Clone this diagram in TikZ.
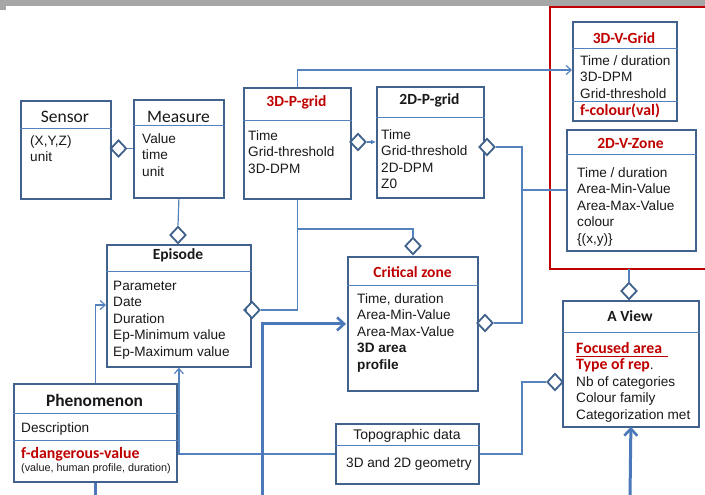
\documentclass[tikz,border=0pt]{standalone}
\usepackage{fontspec}
\setmainfont{Liberation Sans}
\newfontfamily\calfont{Carlito}
\usetikzlibrary{shapes.geometric,arrows.meta}
\definecolor{boxc}{RGB}{64,98,140}
\definecolor{linec}{RGB}{84,130,190}
\definecolor{bigc}{RGB}{74,120,184}
\definecolor{redc}{RGB}{192,0,0}
\definecolor{grayc}{RGB}{166,166,166}
\definecolor{txtc}{RGB}{25,25,25}
\tikzset{
 box/.style={draw=boxc,line width=1.8pt,fill=white,anchor=north west,inner sep=0pt},
 div/.style={draw=linec,line width=1pt},
 body/.style={anchor=north west,inner sep=0pt,align=left,text=txtc,font=\fontsize{13.6}{16.5}\selectfont},
 line1/.style={anchor=base west,inner sep=0pt,text=txtc,font=\fontsize{13.6}{16.5}\selectfont},
 hdr/.style={anchor=base,inner sep=0pt,text=txtc,font=\calfont\bfseries\fontsize{15.5}{18}\selectfont},
 hdrred/.style={hdr,text=redc},
 hdrreg/.style={anchor=base,inner sep=0pt,text=txtc,font=\calfont\fontsize{17.5}{20}\selectfont},
 conn/.style={draw=linec,line width=1.2pt},
 bigline/.style={draw=bigc,line width=3pt},
 openarr/.style={-{Straight Barb[length=5pt,width=9pt]}},
 bigarr/.style={-{Straight Barb[length=7pt,width=13pt,line width=2.6pt]}},
 dia/.style={diamond,aspect=1,draw=boxc,line width=1.8pt,fill=white,inner sep=0pt,minimum width=16pt,minimum height=17pt}
}
\newcommand{\rb}[1]{{\calfont\bfseries\fontsize{15.8}{16.5}\selectfont\color{redc}#1}}
\begin{document}
\begin{tikzpicture}[x=1pt,y=-1pt]
\useasboundingbox (0,0) rectangle (705,495);
% top bar
\fill[grayc] (0,0) rectangle (705,6);
\fill[grayc] (0,6) rectangle (6,10);
% red frame
\draw[redc,line width=2.2pt] (707,7) -- (550,7) -- (550,269) -- (707,269);
\coordinate (redbot) at (629,269);

% boxes
\node[box,minimum width=90pt,minimum height=98pt] (sensor) at (20,100) {};
\draw[div] (sensor.west |- 0,129) -- (sensor.east |- 0,129);
\node[hdrreg] (sensorT) at (65,123) {Sensor};
\node[body] (sensorB) at (30,133.45) {\strut(X,Y,Z)\\unit};

\node[box,minimum width=90pt,minimum height=98pt] (measure) at (133,99) {};
\draw[div] (measure.west |- 0,126) -- (measure.east |- 0,126);
\node[hdrreg] (measureT) at (178.5,123) {Measure};
\node[body] (measureB) at (142,131.45) {\strut Value\\time\\unit};

\node[box,minimum width=107pt,minimum height=111pt] (p3) at (243,87) {};
\draw[div] (p3.west |- 0,121) -- (p3.east |- 0,121);
\node[hdrred] (p3T) at (296.5,106.5) {3D-P-grid};
\node[body] (p3B) at (248,128.45) {\strut Time\\Grid-threshold\\3D-DPM};

\node[box,minimum width=107pt,minimum height=111pt] (p2) at (376,86) {};
\draw[div] (p2.west |- 0,118) -- (p2.east |- 0,118);
\node[hdr] (p2T) at (429.5,105) {2D-P-grid};
\node[body] (p2B) at (381,127.45) {\strut Time\\Grid-threshold\\2D-DPM\\Z0};

\node[box,minimum width=104pt,minimum height=99pt] (v3) at (572,21) {};
\draw[div] (v3.west |- 0,49) -- (v3.east |- 0,49);
\draw[div] (v3.west |- 0,102) -- (v3.east |- 0,102);
\node[hdrred] (v3T) at (624,43.3) {3D-V-Grid};
\node[body] (v3B) at (580,53.45) {\strut Time / duration\\3D-DPM\\Grid-threshold};
\node[anchor=base west,inner sep=0pt] (v3F) at (580,115) {\rb{f-colour(val)}};

\node[box,minimum width=129pt,minimum height=121pt] (v2z) at (566,129) {};
\draw[div] (v2z.west |- 0,154) -- (v2z.east |- 0,154);
\node[hdrred] (v2zT) at (630.5,148.3) {2D-V-Zone};
\node[body] (v2zB) at (577,165.45) {\strut Time / duration\\Area-Min-Value\\Area-Max-Value\\colour\\\{(x,y)\}};

\node[box,minimum width=144pt,minimum height=122pt] (episode) at (106,244) {};
\draw[div] (episode.west |- 0,271) -- (episode.east |- 0,271);
\node[hdr] (episodeT) at (178,259.3) {Episode};
\node[body] (episodeB) at (113,278.45) {\strut Parameter\\Date\\Duration\\Ep-Minimum value\\Ep-Maximum value};

\node[box,minimum width=130pt,minimum height=134pt] (crit) at (347,256) {};
\draw[div] (crit.west |- 0,285) -- (crit.east |- 0,285);
\node[hdrred] (critT) at (412.5,277.7) {Critical zone};
\node[body] (critB) at (357,291.45) {\strut Time, duration\\Area-Min-Value\\Area-Max-Value\\\textbf{3D area}\\\textbf{profile}};

\node[box,minimum width=136pt,minimum height=126pt] (view) at (562,300) {};
\draw[div] (view.west |- 0,332) -- (view.east |- 0,332);
\node[hdr] (viewT) at (630,321.7) {A View};
\node[body] (viewB) at (576,341.45) {\strut\rb{Focused area}\\\rb{Type of rep}.\\Nb of categories\\Colour family\\Categorization met};
\draw[redc,line width=0.9pt] (576,356.5) -- (668,356.5);

\node[box,minimum width=163pt,minimum height=98pt] (phen) at (13,383) {};
\draw[div] (phen.west |- 0,413) -- (phen.east |- 0,413);
\draw[div] (phen.west |- 0,440) -- (phen.east |- 0,440);
\node[hdr,font=\calfont\bfseries\fontsize{17.4}{20}\selectfont] (phenT) at (94.5,406.7) {Phenomenon};
\node[line1] (phenD) at (21,432) {Description};
\node[anchor=base west,inner sep=0pt] (phenF) at (21,458) {\rb{f-dangerous-value}};
\node[anchor=base west,inner sep=0pt,text=txtc,font=\fontsize{10.8}{12}\selectfont] (phenS) at (21,471) {(value, human profile, duration)};

\node[box,minimum width=143pt,minimum height=60pt] (topo) at (335,423) {};
\draw[div] (topo.west |- 0,445) -- (topo.east |- 0,445);
\node[anchor=base,inner sep=0pt,text=txtc,font=\fontsize{14}{16}\selectfont] (topoT) at (407,439) {Topographic data};
\node[line1] (topoB) at (346,467) {3D and 2D geometry};

% diamonds
\node[dia] (d1) at (118.5,148.5) {};
\node[dia] (d2) at (178,235) {};
\node[dia] (d3) at (358,142) {};
\node[dia] (d4) at (487,147) {};
\node[dia] (d5) at (413,246) {};
\node[dia] (d6) at (485,323) {};
\node[dia] (d7) at (252,310) {};
\node[dia] (d8) at (555,382) {};
\node[dia] (d9) at (629,291) {};

% helper coordinates
\coordinate (vx) at (522,0);
\coordinate (y70) at (0,70);
\coordinate (j190) at (522,190);
\coordinate (y229) at (0,229);
\coordinate (y305) at (0,305);
\coordinate (b1) at (262,497);
\coordinate (b2) at (630,497);
\coordinate (b3) at (95,497);

% connectors
\draw[conn] (d1.east) -- (measure.west |- d1.east);
\draw[conn] (measure.south) -- (d2.north);
\draw[conn,openarr] (p3.north) -- (p3.north |- y70) -- (v3.west |- y70);
\draw[conn,-{Latex[length=5pt,width=5pt]}] (d3.east) -- (p2.west |- d3.east);
\draw[conn] (d4.east) -| (vx |- d6.east) -- (d6.east);
\draw[conn] (v2z.west |- j190) -- (j190);
\draw[conn] (p3.south) |- (d7.east);
\draw[conn] (p3.south |- y229) -| (d5.north);
\draw[draw=boxc,line width=1pt,-{Latex[length=3.5pt,width=4.5pt]}] ([xshift=3pt]d7.west) -- (d7.west);
\draw[conn,openarr] (phen.north) |- (episode.west |- y305);
\draw[conn,openarr] (topo.west) -| (episode.south);
\draw[conn] (topo.east) -| (vx |- d8.west) -- (d8.west);
\draw[conn] (redbot) -- (d9.north);
\draw[bigline,bigarr] (b1) |- ([xshift=-1pt]crit.west);
\draw[bigline,bigarr] (b2) -- ([yshift=1pt]view.south);
\draw[bigline] (phen.south) -- (phen.south |- b3);
\end{tikzpicture}
\end{document}
